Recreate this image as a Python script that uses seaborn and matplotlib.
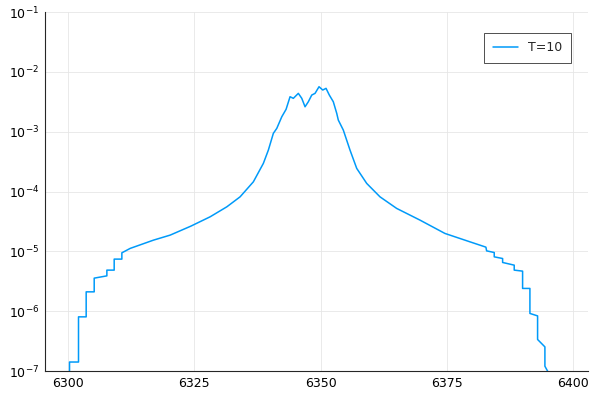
import matplotlib
matplotlib.use("Agg")
import matplotlib.pyplot as plt
import seaborn as sns
import numpy as np
import pandas as pd

wavelength = [6300.26, 6300.26, 6302.04, 6302.04, 6303.56, 6303.56, 6305.15, 6305.15,
              6307.66, 6307.66, 6309.11, 6309.11, 6310.63, 6310.63, 6312.28, 6316.89,
              6320.20, 6324.30, 6328.12, 6331.43, 6334.06, 6336.69, 6338.67, 6339.66,
              6340.65, 6341.33, 6342.32, 6343.17,
              6343.96, 6344.61, 6345.60, 6346.28, 6346.93, 6347.58, 6348.26, 6348.91,
              6349.70, 6350.44, 6351.09, 6351.74, 6352.53, 6353.21, 6353.52, 6354.51,
              6355.84, 6357.17, 6359.15, 6361.78, 6365.09, 6369.70, 6374.65, 6379.60,
              6382.77, 6382.91,
              6384.42, 6384.42, 6386.08, 6386.08, 6388.38, 6388.38, 6390.04, 6390.04,
              6391.49, 6391.49, 6393.01, 6393.01, 6394.46, 6394.46, 6395.11]
log_intensity = [-7.02, -6.85, -6.85, -6.095, -6.095, -5.677, -5.677, -5.448,
                 -5.41, -5.314, -5.314, -5.130, -5.130, -5.025, -4.951, -4.813,
                 -4.729, -4.579, -4.423, -4.256, -4.089, -3.838, -3.530, -3.308,
                 -3.028, -2.945, -2.751, -2.627,
                 -2.416, -2.443, -2.360, -2.443, -2.584, -2.500, -2.388, -2.360,
                 -2.249, -2.304, -2.276, -2.388, -2.500, -2.694, -2.806, -2.973,
                 -3.308, -3.614, -3.865, -4.089, -4.283, -4.478, -4.701, -4.841,
                 -4.93, -4.992,
                 -5.02, -5.092, -5.12, -5.186, -5.231, -5.314, -5.331, -5.620,
                 -5.62, -6.038, -6.079, -6.473, -6.597, -6.920, -7.02]
series_label = "T=10"
x_ticks = [6300, 6325, 6350, 6375, 6400]
y_exponents = [-7, -6, -5, -4, -3, -2, -1]

df = pd.DataFrame({"x": wavelength, "y": np.power(10.0, log_intensity), "s": series_label})

sns.set_style("white")
fig = plt.figure(figsize=(6, 4), dpi=100)
ax = fig.add_axes([45/600, 1-371/400, (588-45)/600, (371-12)/400])
sns.lineplot(data=df, x="x", y="y", hue="s", palette=["#009af9"], sort=False,
             estimator=None, ax=ax, linewidth=1.1)
ax.set_yscale("log")
ax.set_xlim(6295.4, 6403.0)
ax.set_ylim(1e-7, 1e-1)
ax.set_xticks(x_ticks)
ax.set_xticklabels([str(t) for t in x_ticks])
ax.set_yticks([10.0**e for e in y_exponents])
ax.set_yticklabels([rf"$10^{{{e}}}$" for e in y_exponents])
ax.yaxis.set_minor_locator(matplotlib.ticker.NullLocator())
ax.grid(True, color="#e6e6e6", linewidth=0.6)
ax.set_xlabel(""); ax.set_ylabel("")
for s in ["top", "right"]:
    ax.spines[s].set_visible(False)
ax.tick_params(axis="both", direction="in", length=3, labelsize=9, colors="black", pad=4)
leg = ax.legend(loc="upper right", frameon=True, fancybox=False, fontsize=9,
                edgecolor="black", borderpad=0.7, handlelength=2.0,
                bbox_to_anchor=(0.98, 0.96))
leg.get_frame().set_linewidth(0.6)
fig.savefig("out.png", dpi=100)
